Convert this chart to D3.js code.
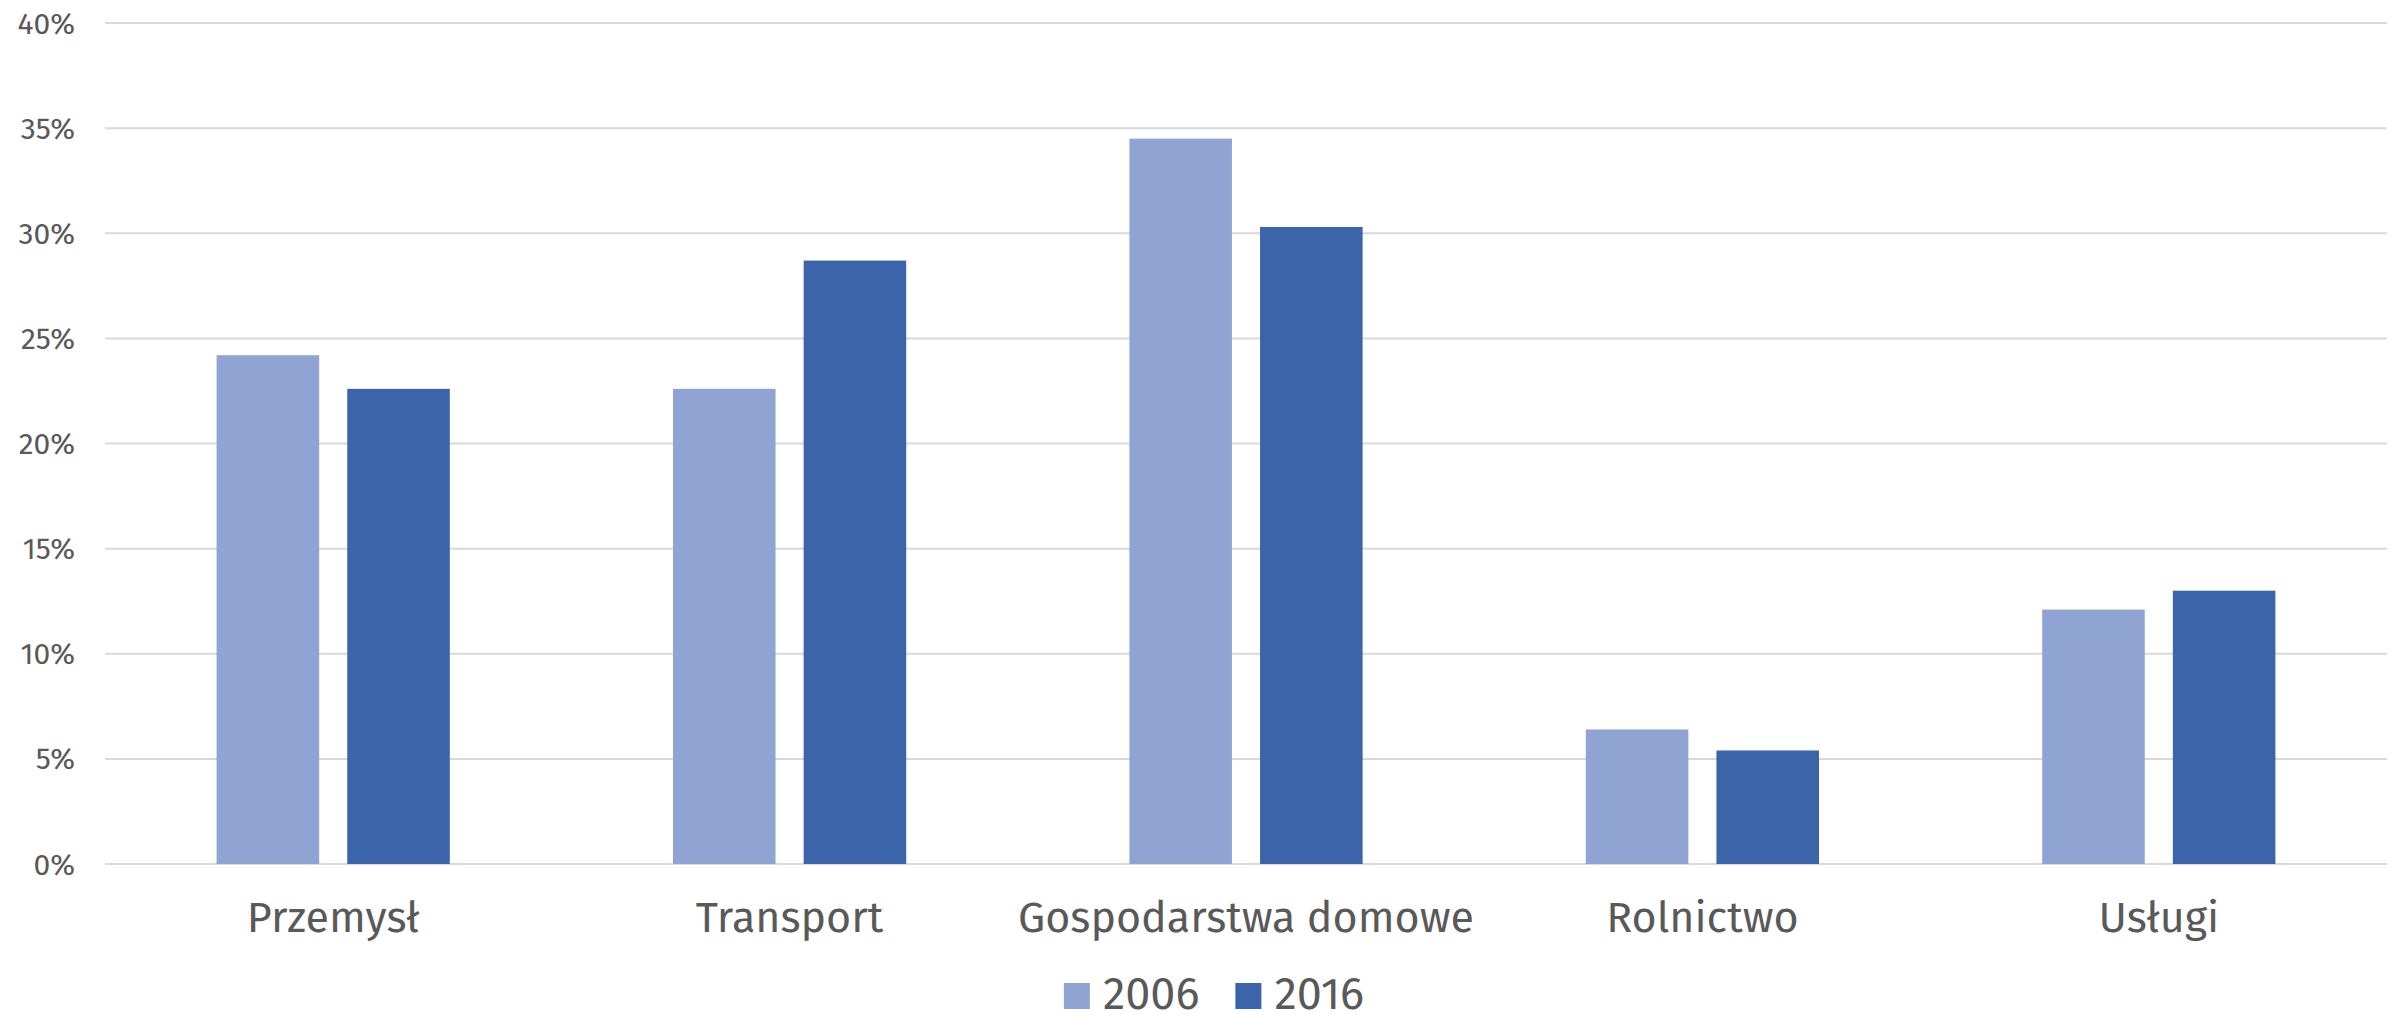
<!DOCTYPE html>
<html>
<head>
<meta charset="utf-8">
<script src="https://cdn.jsdelivr.net/npm/d3@7"></script>
<style>
  body { margin: 0; background: #fff; }
  text { font-family: "Fira Sans", "Open Sans", sans-serif; fill: #595959; }
</style>
</head>
<body>
<div class="chart"></div>
<script>
(function() {

  // data
  var categories = ['Przemysł', 'Transport', 'Gospodarstwa domowe', 'Rolnictwo', 'Usługi'];
  var years = ['2006', '2016'];
  var values2006 = [24.2, 22.6, 34.5, 6.4, 12.1];
  var values2016 = [22.6, 28.7, 30.3, 5.4, 13.0];
  var yTicks = [0, 5, 10, 15, 20, 25, 30, 35, 40];
  var colors = ['#90A4D4', '#3C64AA'];

  var width = 2408, height = 1015;
  var left = 105, right = 2387, top = 23, bottom = 864;

  var svg = d3.select('.chart')
    .append('svg')
    .attr('width', width)
    .attr('height', height);

  var x0 = d3.scaleBand()
    .domain(categories)
    .range([left, right]);

  // two bars per group, ~102px wide with a ~28px gap
  var bw = x0.bandwidth();
  var x1 = d3.scaleBand()
    .domain(years)
    .range([bw * 0.2445, bw * 0.7555])
    .paddingInner(0.215);

  var y = d3.scaleLinear()
    .domain([0, 40])
    .range([bottom, top]);

  // grid lines
  svg.append('g')
    .selectAll('line').data(yTicks).enter()
    .append('line')
    .attr('x1', left)
    .attr('x2', right)
    .attr('y1', function(d) { return y(d); })
    .attr('y2', function(d) { return y(d); })
    .attr('stroke', '#D9D9D9')
    .attr('stroke-width', 2);

  // y tick labels
  svg.append('g')
    .selectAll('text').data(yTicks).enter()
    .append('text')
    .attr('x', 75)
    .attr('y', function(d) { return y(d); })
    .attr('dy', '0.35em')
    .attr('text-anchor', 'end')
    .attr('font-size', 30)
    .text(function(d) { return d + '%'; });

  // bars
  var rows = categories.map(function(c, i) {
    return { cat: c, vals: [values2006[i], values2016[i]] };
  });

  var groups = svg.append('g')
    .selectAll('g').data(rows).enter()
    .append('g')
    .attr('transform', function(d) { return 'translate(' + x0(d.cat) + ',0)'; });

  groups.selectAll('rect')
    .data(function(d) { return d.vals.map(function(v, j) { return { year: years[j], v: v, j: j }; }); })
    .enter()
    .append('rect')
    .attr('x', function(d) { return x1(d.year); })
    .attr('y', function(d) { return y(d.v); })
    .attr('width', x1.bandwidth())
    .attr('height', function(d) { return y(0) - y(d.v); })
    .attr('fill', function(d) { return colors[d.j]; });

  // category labels
  svg.append('g')
    .selectAll('text').data(categories).enter()
    .append('text')
    .attr('x', function(d) { return x0(d) + bw / 2; })
    .attr('y', 932)
    .attr('text-anchor', 'middle')
    .attr('font-size', 43)
    .text(function(d) { return d; });

  // legend
  var legend = svg.append('g');
  var box = 26, pad = 13, spacing = 36;
  var items = legend.selectAll('g').data(years).enter().append('g');
  items.append('rect')
    .attr('width', box)
    .attr('height', box)
    .attr('y', 983)
    .attr('fill', function(d, i) { return colors[i]; });
  items.append('text')
    .attr('x', box + pad)
    .attr('y', 1009)
    .attr('font-size', 45)
    .text(function(d) { return d; });

  var widths = [];
  items.each(function() { widths.push(this.getBBox().width); });
  var total = d3.sum(widths) + spacing * (widths.length - 1);
  var cx = 1214 - total / 2;
  items.attr('transform', function(d, i) {
    var tx = cx;
    cx += widths[i] + spacing;
    return 'translate(' + tx + ',0)';
  });

})();
</script>
</body>
</html>
